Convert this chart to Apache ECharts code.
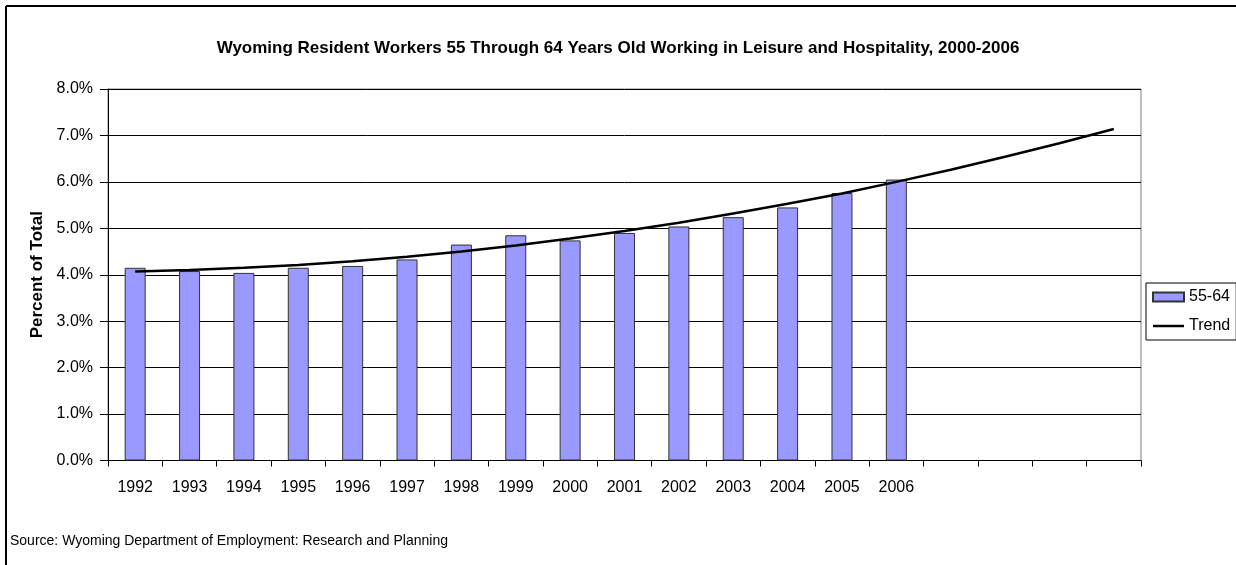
<!DOCTYPE html>
<html>
<head>
<meta charset="utf-8">
<title>Wyoming Resident Workers 55-64 in Leisure and Hospitality</title>
<script src="https://cdn.jsdelivr.net/npm/echarts@6/dist/echarts.min.js"></script>
<style>
  html, body { margin: 0; padding: 0; background: #fff; }
  #chart { width: 1236px; height: 565px; }
</style>
</head>
<body>
<div id="chart"></div>
<script>
// years on the axis; the last four slots are left blank (trend runs on into them)
var years = ['1992', '1993', '1994', '1995', '1996', '1997', '1998', '1999',
             '2000', '2001', '2002', '2003', '2004', '2005', '2006', '', '', '', ''];

// share of workers aged 55-64, percent
var share5564 = [4.15, 4.08, 4.04, 4.15, 4.19, 4.33, 4.65, 4.85,
                 4.74, 4.90, 5.04, 5.24, 5.45, 5.76, 6.05, null, null, null, null];

// trend line, percent
var trend = [4.07, 4.10, 4.15, 4.21, 4.29, 4.39, 4.50, 4.63, 4.78, 4.94,
             5.12, 5.32, 5.53, 5.75, 6.00, 6.26, 6.54, 6.83, 7.14];

var yTicks = { min: 0, max: 8, step: 1 };

var font = 'Arial, "Liberation Sans", sans-serif';

var chart = echarts.init(document.getElementById('chart'));

var option = {
	backgroundColor: '#fff',
	animation: false,
	title: {
		text: 'Wyoming Resident Workers 55 Through 64 Years Old Working in Leisure and Hospitality, 2000-2006',
		left: 'center',
		top: 35,
		textStyle: { fontFamily: font, fontSize: 17, fontWeight: 'bold', color: '#000' }
	},
	legend: {
		orient: 'vertical',
		left: 1146,
		top: 283,
		padding: [6, 6, 6, 6],
		itemGap: 13,
		itemWidth: 31,
		itemHeight: 9,
		borderColor: '#000',
		borderWidth: 1,
		textStyle: { fontFamily: font, fontSize: 16, color: '#000' },
		data: [
			{ name: '55-64', icon: 'rect' },
			{ name: 'Trend', icon: 'path://M0,0 L100,0 L100,8 L0,8 Z' }
		]
	},
	grid: {
		left: 108,
		right: 95,
		top: 89,
		bottom: 104.5,
		show: true,
		borderColor: '#808080',
		borderWidth: 1
	},
	xAxis: {
		type: 'category',
		data: years,
		boundaryGap: true,
		axisLine: { lineStyle: { color: '#000', width: 1 } },
		axisTick: { show: true, interval: 0, length: 6, lineStyle: { color: '#000' } },
		axisLabel: { interval: 0, margin: 19, fontFamily: font, fontSize: 16, color: '#000' }
	},
	yAxis: {
		type: 'value',
		min: yTicks.min,
		max: yTicks.max,
		interval: yTicks.step,
		name: 'Percent of Total',
		nameLocation: 'middle',
		nameGap: 56,
		nameTextStyle: { fontFamily: font, fontSize: 17, fontWeight: 'bold', color: '#000' },
		axisLine: { show: true, lineStyle: { color: '#000', width: 1 } },
		axisTick: { show: true, length: 8, lineStyle: { color: '#000' } },
		axisLabel: {
			margin: 15,
			fontFamily: font,
			fontSize: 16,
			color: '#000',
			formatter: function (v) { return v.toFixed(1) + '%'; }
		},
		splitLine: { show: true, lineStyle: { color: '#000', width: 1 } }
	},
	series: [
		{
			name: '55-64',
			type: 'bar',
			data: share5564,
			barWidth: 21,
			itemStyle: { color: '#9999FF', borderColor: '#333', borderWidth: 1 }
		},
		{
			name: 'Trend',
			type: 'line',
			data: trend,
			symbol: 'none',
			showSymbol: false,
			z: 5,
			lineStyle: { color: '#000', width: 2.5 },
			itemStyle: { color: '#000' }
		}
	],
	graphic: [
		{ type: 'line', shape: { x1: 6, y1: 6, x2: 1236, y2: 6 }, style: { stroke: '#000', lineWidth: 2 } },
		{ type: 'line', shape: { x1: 6, y1: 6, x2: 6, y2: 565 }, style: { stroke: '#000', lineWidth: 2 } },
		{
			type: 'text',
			left: 10,
			top: 534,
			style: {
				text: 'Source: Wyoming Department of Employment: Research and Planning',
				fontFamily: font,
				fontSize: 14,
				fill: '#000'
			}
		}
	]
};

chart.setOption(option);
</script>
</body>
</html>
